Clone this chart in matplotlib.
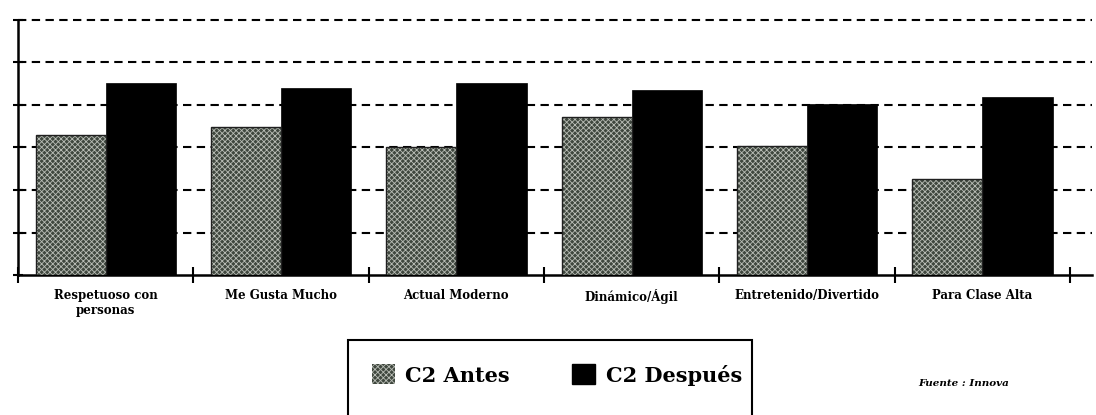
import numpy as np
import matplotlib
matplotlib.use("Agg")
import matplotlib.pyplot as plt
from matplotlib.patches import Patch, Rectangle

# ========== 数据 ==========
categories = ["Respetuoso con\npersonas", "Me Gusta Mucho", "Actual Moderno",
              "Dinámico/Ágil", "Entretenido/Divertido", "Para Clase Alta"]
antes = [3.30, 3.48, 3.01, 3.72, 3.04, 2.26]
despues = [4.52, 4.40, 4.52, 4.35, 4.02, 4.19]
series_labels = ["C2 Antes", "C2 Después"]
source_text = "Fuente : Innova"

# ========== 样式 ==========
col_gray = "#3f473e"
col_hatch = "#b9bdb6"
col_black = "#000000"
plt.rcParams["hatch.linewidth"] = 0.6
plt.rcParams["hatch.color"] = col_hatch

fig = plt.figure(figsize=(10.96, 4.15), dpi=100)
ax = fig.add_axes([18 / 1096, 140 / 415, 1074 / 1096, 255 / 415])

x = np.arange(len(categories))
w = 0.40

# 灰色带网点的柱（先画填充+网点，再画外框）
ax.bar(x - w / 2, antes, width=w, color=col_gray, hatch="xxxxxx",
       edgecolor=col_hatch, linewidth=0, zorder=3)
ax.bar(x - w / 2, antes, width=w, color="none", edgecolor="#202020",
       linewidth=1.0, zorder=4)
ax.bar(x + w / 2, despues, width=w, color=col_black, edgecolor=col_black,
       linewidth=0.5, zorder=3)

# 网格线（虚线）
for yv in range(1, 7):
    ax.axhline(yv, color="black", lw=1.5, ls=(0, (4, 2.6)), zorder=1,
               clip_on=False)

ax.set_xlim(-0.5, 5.625)
ax.set_ylim(0, 6)

for s in ["top", "right"]:
    ax.spines[s].set_visible(False)
ax.spines["left"].set_linewidth(1.8)
ax.spines["bottom"].set_linewidth(1.8)

ax.set_yticks(range(0, 7))
ax.set_yticklabels([])
ax.tick_params(axis="y", direction="inout", length=7, width=1.5)

# x 轴：分组边界处的刻度线，标签放在组中心
ax.set_xticks(np.arange(-0.5, 5.6, 1.0))
ax.set_xticklabels([])
ax.set_xticks(x, minor=True)
ax.set_xticklabels(categories, minor=True, family="DejaVu Serif",
                   fontweight="bold", fontsize=8.5, linespacing=1.2)
ax.tick_params(axis="x", which="major", direction="inout", length=12, width=1.5)
ax.tick_params(axis="x", which="minor", length=0, pad=10)

# 图例
handles = [
    Patch(facecolor=col_gray, hatch="xxxxxx", edgecolor=col_hatch, linewidth=0),
    Patch(facecolor=col_black, edgecolor=col_black),
]
fig.legend(handles=handles, labels=series_labels, loc="center",
           bbox_to_anchor=(557 / 1096, 1 - 375 / 415), ncol=2, frameon=False,
           prop=dict(family="DejaVu Serif", weight="bold", size=15),
           handlelength=1.1, handleheight=1.1, handletextpad=0.5,
           columnspacing=3.0)
fig.patches.append(Rectangle((348 / 1096, -0.05), 404 / 1096, 0.05 + 75 / 415,
                             transform=fig.transFigure, fill=False,
                             edgecolor="black", linewidth=1.5, clip_on=False))

fig.text(918 / 1096, 1 - 383 / 415, source_text, family="DejaVu Serif",
         style="italic", fontweight="bold", fontsize=7.5, va="center", ha="left")

fig.savefig("out.png", dpi=100)
plt.close(fig)
